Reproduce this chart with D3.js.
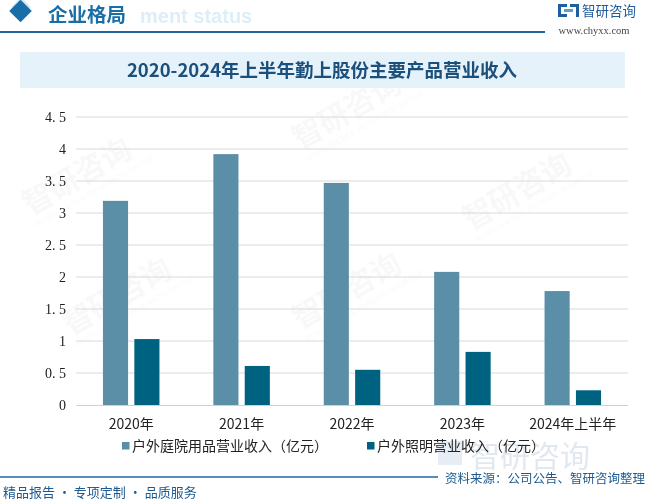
<!DOCTYPE html>
<html>
<head>
<meta charset="utf-8">
<script src="https://cdn.jsdelivr.net/npm/d3@7"></script>
<style>
  body { margin: 0; background: #fff; }
  svg { display: block; font-family: "Noto Sans CJK SC", sans-serif; }
</style>
</head>
<body>
<div class="svg"></div>
<script>
const categories = ['2020年', '2021年', '2022年', '2023年', '2024年上半年'];
const seriesNames = ['户外庭院用品营业收入（亿元）', '户外照明营业收入（亿元）'];
const gardenValues = [3.19, 3.92, 3.47, 2.08, 1.78];
const lightingValues = [1.03, 0.61, 0.55, 0.83, 0.23];
const yTicks = [0, 0.5, 1, 1.5, 2, 2.5, 3, 3.5, 4, 4.5];
const colors = ['#5b8fa8', '#006281'];

const w = 647;
const h = 500;
const plotLeft = 76, plotRight = 628, plotTop = 117, plotBottom = 405;

const svg = d3.select('.svg').append('svg').attr('width', w).attr('height', h);

// faint watermarks behind everything
const wm = svg.append('g').attr('fill', '#000').attr('opacity', 0.03);
[[30, 215], [300, 150], [70, 335], [300, 330], [470, 230]].forEach(p => {
  const g = wm.append('g').attr('transform', `translate(${p[0]},${p[1]}) rotate(-30)`);
  g.append('text').attr('font-size', 30).attr('font-weight', 700).text('智研咨询');
  g.append('text').attr('y', 14).attr('font-size', 8).attr('font-family', 'Liberation Sans').text('INTELLIGENCE RESEARCH GROUP');
});

// faint logo watermark bottom right
svg.append('rect').attr('x', 438).attr('y', 441).attr('width', 24).attr('height', 24).attr('fill', '#e6edf4');
svg.append('text').attr('x', 470).attr('y', 467).attr('font-size', 30).attr('fill', '#e2e8ef').text('智研咨询');

// header
svg.append('text').attr('x', 140).attr('y', 23).attr('font-size', 20).attr('font-weight', 700)
  .attr('font-family', 'Liberation Sans').attr('fill', '#ddeef8').text('ment status');
svg.append('rect').attr('x', 14).attr('y', 0).attr('width', 14).attr('height', 14).attr('fill', '#d8e8f3')
  .attr('transform', 'rotate(45 21 7)');
svg.append('rect').attr('x', 12.5).attr('y', 3).attr('width', 16).attr('height', 16).attr('fill', '#1a6ea8')
  .attr('transform', 'rotate(45 20.5 11)');
svg.append('text').attr('x', 48).attr('y', 22).attr('font-size', 19.5).attr('font-weight', 700)
  .attr('fill', '#1a6ea8').text('企业格局');
svg.append('line').attr('x1', 0).attr('x2', 545).attr('y1', 32).attr('y2', 32)
  .attr('stroke', '#1f66a0').attr('stroke-width', 2);

// logo
const logo = svg.append('g').attr('fill', '#1e5fa0');
logo.append('rect').attr('x', 558).attr('y', 4).attr('width', 9).attr('height', 3);
logo.append('rect').attr('x', 558).attr('y', 4).attr('width', 3).attr('height', 13);
logo.append('rect').attr('x', 558).attr('y', 14).attr('width', 9).attr('height', 3);
logo.append('rect').attr('x', 570).attr('y', 4).attr('width', 9).attr('height', 3);
logo.append('rect').attr('x', 576).attr('y', 4).attr('width', 3).attr('height', 13);
logo.append('rect').attr('x', 564).attr('y', 9).attr('width', 9).attr('height', 3).attr('fill', '#5aa0d8');
svg.append('text').attr('x', 582).attr('y', 16).attr('font-size', 13.5).attr('fill', '#1e5c9c').text('智研咨询');
svg.append('text').attr('x', 594).attr('y', 34).attr('text-anchor', 'middle').attr('font-size', 10.5)
  .attr('font-family', 'Liberation Serif').attr('fill', '#444').text('www.chyxx.com');

// title
svg.append('rect').attr('x', 20).attr('y', 52).attr('width', 605).attr('height', 36).attr('fill', '#e6f2fa');
svg.append('text').attr('x', 322).attr('y', 77).attr('text-anchor', 'middle').attr('font-size', 18.5)
  .attr('font-weight', 700).attr('fill', '#1b4f7c').text('2020-2024年上半年勤上股份主要产品营业收入');

// scales
const x0 = d3.scaleBand().domain(categories).range([plotLeft, plotRight]);
const x1 = d3.scaleBand().domain([0, 1])
  .range([x0.bandwidth() / 2 - 28.25, x0.bandwidth() / 2 + 28.25]).paddingInner(0.2);
const y = d3.scaleLinear().domain([0, 4.5]).range([plotBottom, plotTop]);

// grid
svg.append('g').selectAll('line').data(yTicks.filter(d => d > 0)).enter().append('line')
  .attr('x1', plotLeft).attr('x2', plotRight).attr('y1', d => y(d)).attr('y2', d => y(d))
  .attr('stroke', '#d9d9d9').attr('stroke-width', 1);

// bars
const rows = categories.map((c, i) => ({ cat: c, vals: [gardenValues[i], lightingValues[i]] }));
const groups = svg.append('g').selectAll('g').data(rows).enter().append('g')
  .attr('transform', d => `translate(${x0(d.cat)},0)`);
groups.selectAll('rect').data(d => d.vals.map((v, k) => ({ k, v }))).enter().append('rect')
  .attr('x', d => x1(d.k)).attr('y', d => y(d.v)).attr('width', x1.bandwidth())
  .attr('height', d => plotBottom - y(d.v)).attr('fill', d => colors[d.k]);

// axes
const xAxis = svg.append('g').attr('transform', `translate(0,${plotBottom})`)
  .call(d3.axisBottom(x0).tickSize(0).tickPadding(14));
xAxis.select('.domain').attr('stroke', '#d0d0d0');
xAxis.selectAll('text').attr('font-size', 14).attr('fill', '#222').attr('font-family', '"Noto Sans CJK SC"');

const yAxis = svg.append('g').attr('transform', `translate(66,0)`)
  .call(d3.axisLeft(y).tickValues(yTicks).tickSize(0).tickPadding(0)
    .tickFormat(d => String(d).replace('.', '. ')));
yAxis.select('.domain').remove();
yAxis.selectAll('text').attr('font-size', 14).attr('fill', '#222').attr('font-family', '"Liberation Serif"');

// legend
const legendX = [122, 367];
const legend = svg.append('g').selectAll('g').data(seriesNames).enter().append('g')
  .attr('transform', (d, i) => `translate(${legendX[i]},442)`);
legend.append('rect').attr('width', 7.5).attr('height', 7.5).attr('fill', (d, i) => colors[i]);
legend.append('text').attr('x', 10).attr('y', 9).attr('font-size', 14).attr('fill', '#222').text(d => d);

// footer
svg.append('line').attr('x1', 0).attr('x2', 438).attr('y1', 477).attr('y2', 477)
  .attr('stroke', '#1f66a0').attr('stroke-width', 1.5);
svg.append('text').attr('x', 645).attr('y', 483).attr('text-anchor', 'end').attr('font-size', 12.5)
  .attr('fill', '#1e5a90').text('资料来源：公司公告、智研咨询整理');
svg.append('text').attr('x', 3).attr('y', 497).attr('font-size', 13)
  .attr('fill', '#1e5a90').text('精品报告 · 专项定制 · 品质服务');
</script>
</body>
</html>
